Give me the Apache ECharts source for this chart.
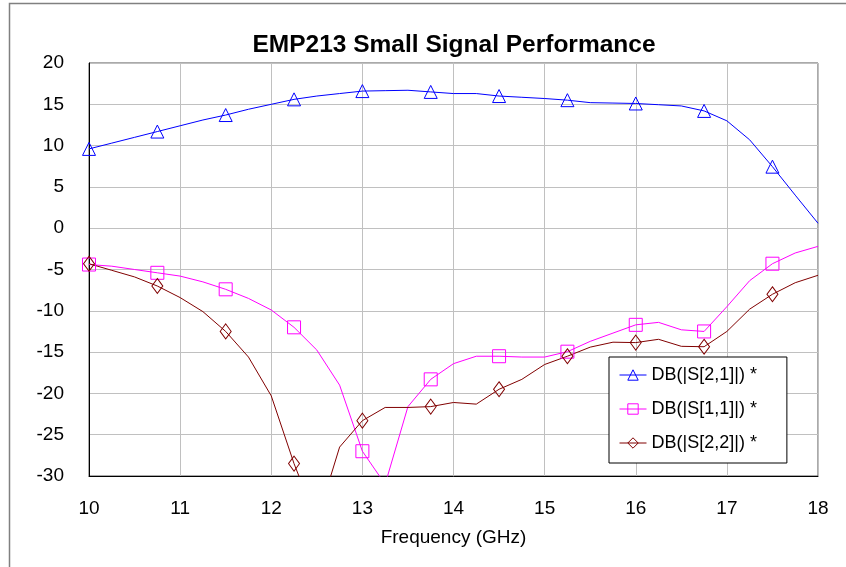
<!DOCTYPE html>
<html>
<head>
<meta charset="utf-8">
<script src="https://cdn.jsdelivr.net/npm/echarts@6/dist/echarts.min.js"></script>
<style>html,body{margin:0;padding:0;background:#fff;}#c{width:846px;height:567px;}</style>
</head>
<body>
<div id="c"></div>
<script>
const freq = [10,10.25,10.5,10.75,11,11.25,11.5,11.75,12,12.25,12.5,12.75,13,13.25,13.5,13.75,14,14.25,14.5,14.75,15,15.25,15.5,15.75,16,16.25,16.5,16.75,17,17.25,17.5,17.75,18];
const s21 = [9.6,10.3,11.0,11.7,12.4,13.1,13.7,14.4,15.0,15.6,16.0,16.3,16.6,16.65,16.7,16.5,16.3,16.3,16.0,15.85,15.7,15.5,15.2,15.15,15.1,14.95,14.8,14.2,13.0,10.7,7.45,4.0,0.6];
const s11 = [-4.4,-4.6,-5.0,-5.4,-5.8,-6.5,-7.4,-8.5,-9.9,-12.0,-14.75,-19.0,-27.0,-31.0,-21.6,-18.3,-16.4,-15.5,-15.5,-15.6,-15.6,-14.95,-13.7,-12.7,-11.7,-11.4,-12.3,-12.5,-9.5,-6.35,-4.3,-3.0,-2.2];
const s22 = [-4.3,-5.1,-5.9,-7.0,-8.4,-10.1,-12.5,-15.6,-20.3,-28.5,-35.5,-26.5,-23.3,-21.7,-21.7,-21.6,-21.1,-21.3,-19.5,-18.3,-16.5,-15.5,-14.4,-13.8,-13.85,-13.45,-14.3,-14.35,-12.5,-9.8,-8.0,-6.6,-5.7];
const seriesNames = ['DB(|S[2,1]|) *','DB(|S[1,1]|) *','DB(|S[2,2]|) *'];
const xTicks = [10,11,12,13,14,15,16,17,18];
const yTicks = [-30,-25,-20,-15,-10,-5,0,5,10,15,20];

const FONT = 'Liberation Sans, Arial, sans-serif';
function mk(name, vals, color, symbol, size){
  return {
    name: name, type: 'line', symbol: symbol, symbolSize: size,
    clip: true, animation: false,
    lineStyle: {color: color, width: 1},
    itemStyle: {color: 'rgba(255,255,255,0)', borderColor: color, borderWidth: 1},
    data: freq.map((f,i)=>({value:[f, vals[i]], symbol: (i%3===0) ? symbol : 'none'}))
  };
}
const chart = echarts.init(document.getElementById('c'), null, {renderer:'canvas'});
chart.setOption({
  backgroundColor: '#fff',
  animation: false,
  title: {text: 'EMP213 Small Signal Performance', left: 449, top: 28, textAlign: 'center',
    textStyle: {fontFamily: FONT, fontSize: 24.5, fontWeight: 'bold', color: '#000'}},
  grid: {left: 89, right: 28, top: 63, bottom: 91, show: true, borderColor: '#555', borderWidth: 1, containLabel: false},
  xAxis: {type: 'value', min: 10, max: 18, interval: 1,
    name: 'Frequency (GHz)', nameLocation: 'middle', nameGap: 52,
    nameTextStyle: {fontFamily: FONT, fontSize: 19, color: '#000'},
    axisLine: {show: true, onZero: false, lineStyle: {color: '#000', width: 1}},
    axisTick: {show: false},
    axisLabel: {fontFamily: FONT, fontSize: 19, color: '#000', margin: 23},
    splitLine: {show: true, lineStyle: {color: '#c0c0c0', width: 1}}},
  yAxis: {type: 'value', min: -30, max: 20, interval: 5,
    axisLine: {show: true, onZero: false, lineStyle: {color: '#000', width: 1}},
    axisTick: {show: false},
    axisLabel: {fontFamily: FONT, fontSize: 19, color: '#000', margin: 25},
    splitLine: {show: true, lineStyle: {color: '#c0c0c0', width: 1}}},
  legend: {orient: 'vertical', left: 609, top: 357, backgroundColor: '#fff',
    borderColor: '#000', borderWidth: 1, padding: [9, 30, 11, 10], itemGap: 16,
    itemWidth: 27, itemHeight: 13,
    itemStyle: {color: 'rgba(255,255,255,0)', borderWidth: 1},
    lineStyle: {width: 1},
    textStyle: {fontFamily: FONT, fontSize: 18, color: '#000'},
    data: seriesNames},
  series: [
    mk(seriesNames[0], s21, '#0000ff', 'triangle', 13),
    mk(seriesNames[1], s11, '#ff00ff', 'rect', 13),
    mk(seriesNames[2], s22, '#800000', 'diamond', [11,15])
  ],
  graphic: [
    {type: 'polyline', shape: {points: [[9.5,567],[9.5,3.5],[846,3.5]]}, style: {stroke: '#808080', lineWidth: 1.5, fill: null}}
  ]
});
</script>
</body>
</html>
